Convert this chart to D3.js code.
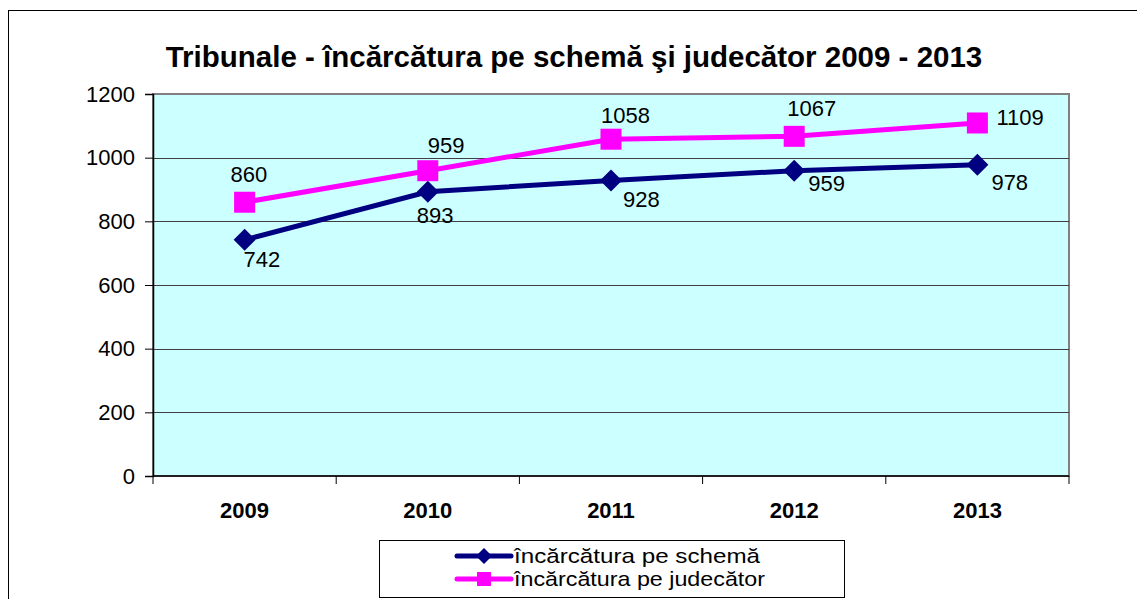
<!DOCTYPE html>
<html>
<head>
<meta charset="utf-8">
<script src="https://cdn.jsdelivr.net/npm/d3@7"></script>
<style>
  body { margin: 0; background: #fff; }
  svg { display: block; font-family: Arial, "Liberation Sans", sans-serif; }
</style>
</head>
<body>
<script>
// data
var years = ["2009", "2010", "2011", "2012", "2013"];
var schema = [742, 893, 928, 959, 978];
var judecator = [860, 959, 1058, 1067, 1109];
var yTicks = [0, 200, 400, 600, 800, 1000, 1200];
var seriesNames = ["încărcătura pe schemă", "încărcătura pe judecător"];
var titleText = "Tribunale - încărcătura pe schemă şi judecător 2009 - 2013";

// label nudges (Excel put them a bit all over the place)
var schemaLabelPos = [[-1, 27], [-11, 31], [12, 26], [14, 20], [14, 25]];
var judLabelPos = [[-14, -20], [0, -18], [-10, -16], [-7, -20], [19, 2]];

var W = 1137, H = 599;
var pL = 153, pR = 1069, pT = 94, pB = 476;

var svg = d3.select("body").append("svg").attr("width", W).attr("height", H);

// outer frame
svg.append("rect").attr("x", 8.5).attr("y", 10.5).attr("width", 1140).attr("height", 600)
  .attr("fill", "none").attr("stroke", "#000").attr("stroke-width", 1);

var x = d3.scaleBand().domain(years).range([pL, pR]).padding(0);
var y = d3.scaleLinear().domain([0, 1200]).range([pB, pT]);

// plot bg
svg.append("rect").attr("x", pL).attr("y", pT).attr("width", pR - pL).attr("height", pB - pT)
  .attr("fill", "#CCFFFF").attr("stroke", "#808080").attr("stroke-width", 2);

// grid
svg.append("g").selectAll("line").data(yTicks.slice(1, -1)).enter().append("line")
  .attr("x1", pL).attr("x2", pR)
  .attr("y1", function(d){ return Math.round(y(d)) + 0.5; })
  .attr("y2", function(d){ return Math.round(y(d)) + 0.5; })
  .attr("stroke", "#404040").attr("stroke-width", 1);

// y axis
var yAxis = d3.axisLeft(y).tickValues(yTicks).tickSize(8).tickPadding(10).tickFormat(d3.format("d"));
var gy = svg.append("g").attr("transform", "translate(" + pL + ",0)").call(yAxis);
gy.select(".domain").attr("stroke", "#000").attr("stroke-width", 1.5);
gy.selectAll(".tick line").attr("stroke", "#000");
gy.selectAll("text").attr("font-size", 22).attr("font-family", "Arial, 'Liberation Sans', sans-serif").attr("fill", "#000");

// x axis - ticks sit on band edges
var gx = svg.append("g").attr("transform", "translate(0," + pB + ")");
gx.append("line").attr("x1", pL).attr("x2", pR).attr("stroke", "#000").attr("stroke-width", 1.5);
var edges = years.map(function(d){ return x(d); }).concat([pR]);
gx.selectAll("line.t").data(edges).enter().append("line").attr("class", "t")
  .attr("x1", function(d){ return d; }).attr("x2", function(d){ return d; })
  .attr("y1", 0).attr("y2", 8).attr("stroke", "#000");
gx.selectAll("text").data(years).enter().append("text")
  .attr("x", function(d){ return x(d) + x.bandwidth() / 2; })
  .attr("y", 42).attr("text-anchor", "middle")
  .attr("font-size", 22).attr("font-weight", "bold").text(function(d){ return d; });

// title
svg.append("text").attr("x", 574).attr("y", 67).attr("text-anchor", "middle")
  .attr("font-size", 29.5).attr("font-weight", "bold").text(titleText);

var cx = function(d, i){ return x(years[i]) + x.bandwidth() / 2; };
var line = d3.line().x(function(d, i){ return cx(d, i); }).y(function(d){ return y(d); });

function diamond(g, px, py, r, col) {
  g.append("path").attr("d", "M" + px + "," + (py - r) + "L" + (px + r) + "," + py + "L" + px + "," + (py + r) + "L" + (px - r) + "," + py + "Z")
    .attr("fill", col);
}
function square(g, px, py, s, col) {
  g.append("rect").attr("x", px - s / 2).attr("y", py - s / 2).attr("width", s).attr("height", s).attr("fill", col);
}

// navy line
svg.append("path").datum(schema).attr("d", line).attr("fill", "none").attr("stroke", "#000080").attr("stroke-width", 5);
// magenta line
svg.append("path").datum(judecator).attr("d", line).attr("fill", "none").attr("stroke", "#FF00FF").attr("stroke-width", 5);

var mk = svg.append("g");
schema.forEach(function(v, i){ diamond(mk, cx(v, i), y(v), 11, "#000080"); });
judecator.forEach(function(v, i){ square(mk, cx(v, i), y(v), 21, "#FF00FF"); });

// value labels
var lab = svg.append("g").attr("font-size", 22).attr("fill", "#000");
schema.forEach(function(v, i){
  lab.append("text").attr("x", cx(v, i) + schemaLabelPos[i][0]).attr("y", y(v) + schemaLabelPos[i][1]).text(v);
});
judecator.forEach(function(v, i){
  lab.append("text").attr("x", cx(v, i) + judLabelPos[i][0]).attr("y", y(v) + judLabelPos[i][1]).text(v);
});

// legend - text looks a bit stretched sideways in the original
var lg = svg.append("g");
lg.append("rect").attr("x", 379.5).attr("y", 540.5).attr("width", 465).attr("height", 57)
  .attr("fill", "#fff").attr("stroke", "#000").attr("stroke-width", 1);
var legCols = ["#000080", "#FF00FF"];
var legLen = [246, 251];
seriesNames.forEach(function(n, i){
  var ly = 556 + i * 23;
  lg.append("line").attr("x1", 457).attr("x2", 511).attr("y1", ly).attr("y2", ly)
    .attr("stroke", legCols[i]).attr("stroke-width", 5).attr("stroke-linecap", "round");
  if (i === 0) diamond(lg, 484, ly, 8, legCols[i]);
  else square(lg, 484, ly, 14, legCols[i]);
  lg.append("text").attr("x", 514).attr("y", ly + 7).attr("font-size", 21)
    .attr("textLength", legLen[i]).attr("lengthAdjust", "spacingAndGlyphs").text(n);
});
</script>
</body>
</html>
